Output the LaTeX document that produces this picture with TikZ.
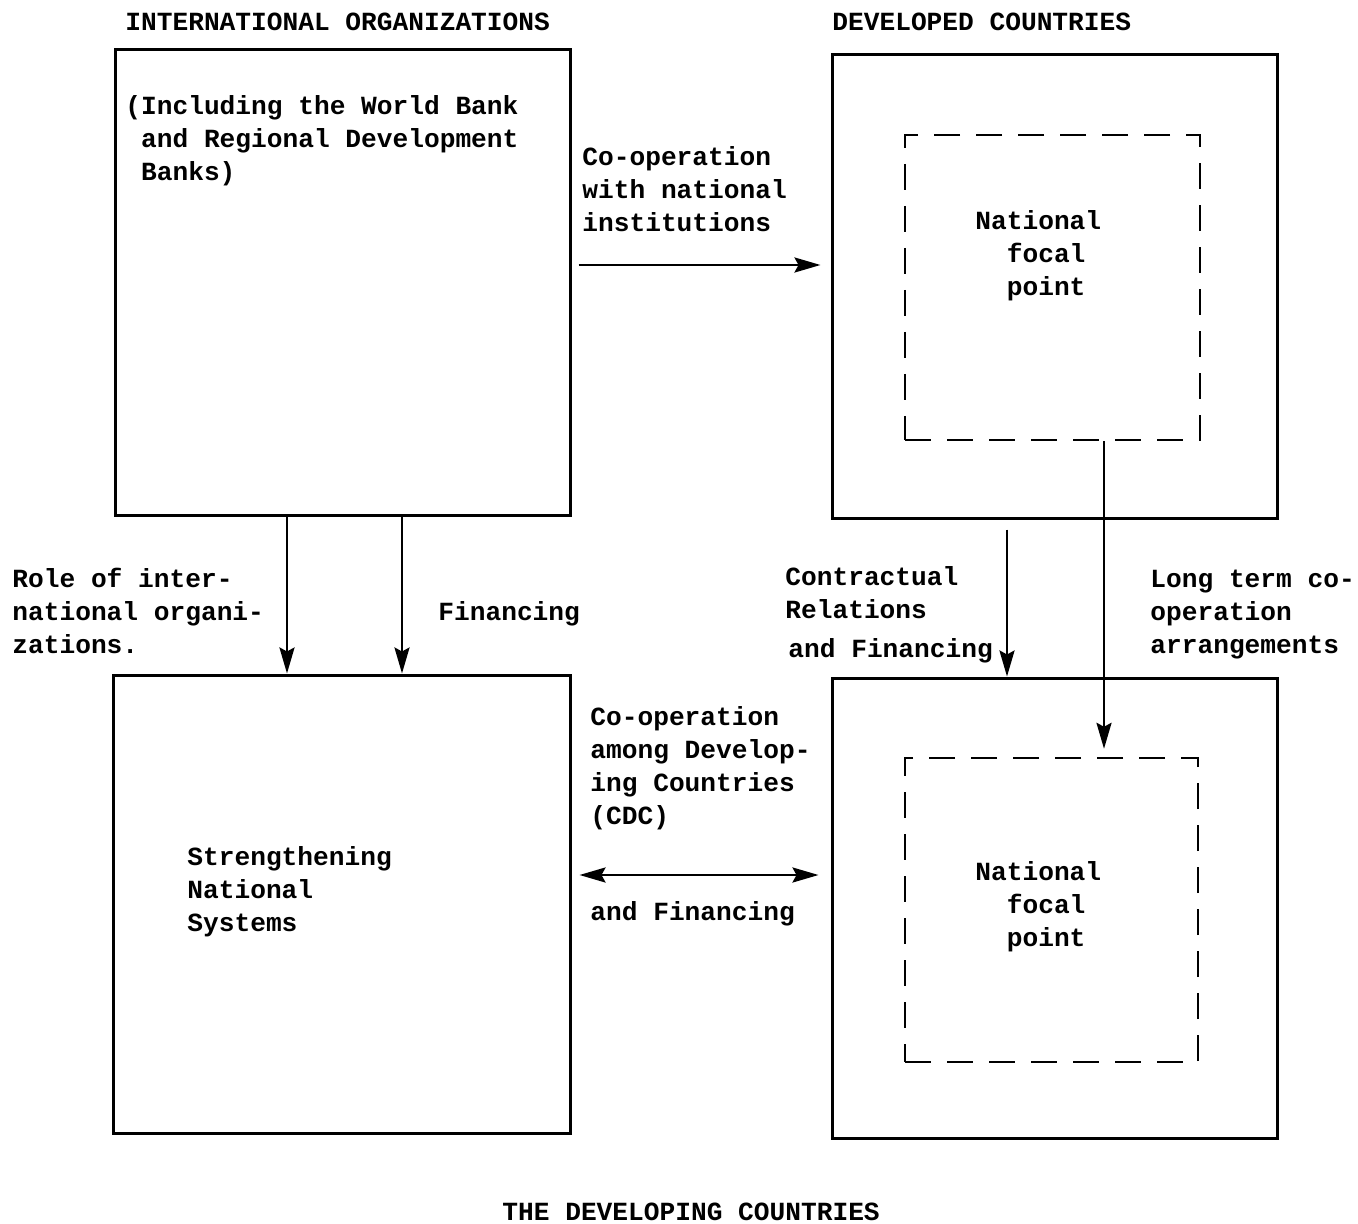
\documentclass[tikz,border=0pt]{standalone}
\usepackage{fontspec}
\setmonofont{Liberation Mono}
\usetikzlibrary{arrows.meta,fit}
\begin{document}
\begin{tikzpicture}[x=0.5pt,y=-0.5pt,
  box/.style={draw,line width=1.5pt,inner sep=0pt},
  dbox/.style={draw,line width=1.2pt,inner sep=0pt,dash pattern=on 13pt off 8pt},
  tip/.style={},
  arr/.style={line width=1.3pt,-{Stealth[length=13pt,width=7.5pt,inset=2pt]}},
  darr/.style={line width=1.3pt,{Stealth[length=13pt,width=7.5pt,inset=2pt]}-{Stealth[length=13pt,width=7.5pt,inset=2pt]}},
  txt/.style={font={\ttfamily\bfseries\fontsize{13.1}{16.5}\selectfont}, inner sep=0pt, anchor=base west, align=left}]
\useasboundingbox (0,0) rectangle (1358,1224);
% boxes
\node[box, fit={(115,50) (570,515)}] (TL) {};
\node[box, fit={(832,55) (1277,518)}] (TR) {};
\node[box, fit={(113,675) (570,1133)}] (BL) {};
\node[box, fit={(832,678) (1277,1138)}] (BR) {};
\node[dbox, fit={(905,135) (1200,440)}] (TRin) {};
\node[dbox, fit={(905,758) (1198,1062)}] (BRin) {};
% titles
\node[txt] (t1) at (125,31) {INTERNATIONAL ORGANIZATIONS};
\node[txt] (t2) at (832,31) {DEVELOPED COUNTRIES};
\node[txt] (t3) at (502,1220) {THE DEVELOPING COUNTRIES};
% texts (anchor = baseline of last line)
\node[txt] (inc) at (125,181) {(Including the World Bank\\\hphantom{(}and Regional Development\\\hphantom{(}Banks)};
\node[txt] (coop) at (582,232) {Co-operation\\with national\\institutions};
\node[txt] (nfp1) at (975,296) {National\\\hphantom{Na}focal\\\hphantom{Na}point};
\node[txt] (role) at (12,653) {Role of inter-\\national organi-\\zations.};
\node[txt] (fin) at (438,620) {Financing};
\node[txt] (contr) at (785,657) {Contractual\\Relations\\[3pt]\hspace*{1.5pt}and Financing};
\node[txt] (long) at (1150,653) {Long term co-\\operation\\arrangements};
\node[txt] (cdc) at (590,824) {Co-operation\\among Develop-\\ing Countries\\(CDC)};
\node[txt] (cdcf) at (590,920) {and Financing};
\node[txt] (str) at (187,931) {Strengthening\\National\\Systems};
\node[txt] (nfp2) at (975,946) {National\\\hphantom{Na}focal\\\hphantom{Na}point};
% connectors
\coordinate (yA) at (0,265);
\coordinate (yB) at (0,875);
\coordinate (xA) at (287,0);
\coordinate (xB) at (402,0);
\coordinate (xC) at (1007,0);
\coordinate (xD) at (1104,0);
\draw[arr, shorten <=3.5pt, shorten >=5pt] (TL.east |- yA) -- (TR.west |- yA);
\draw[arr] (TL.south -| xA) -- (BL.north -| xA);
\draw[arr] (TL.south -| xB) -- (BL.north -| xB);
\draw[arr, shorten <=5pt] (TR.south -| xC) -- (BR.north -| xC);
\draw[arr, shorten >=4pt] (TRin.south -| xD) -- (BRin.north -| xD);
\draw[darr, shorten <=4pt, shorten >=6pt] (BL.east |- yB) -- (BR.west |- yB);
\end{tikzpicture}
\end{document}
